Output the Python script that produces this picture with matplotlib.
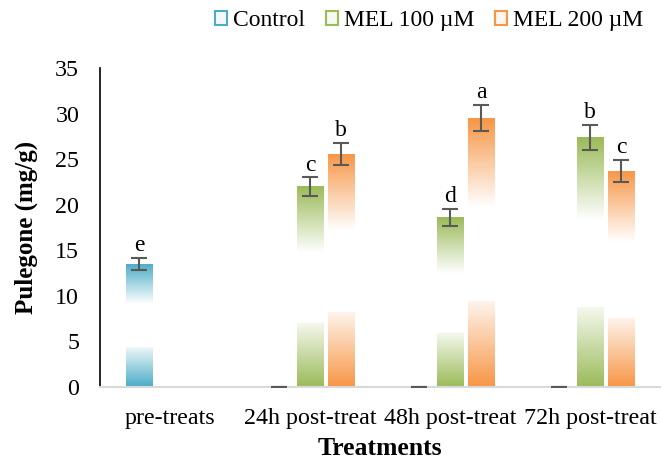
import numpy as np
import matplotlib
matplotlib.use("Agg")
import matplotlib.pyplot as plt
from matplotlib.patches import Patch
from matplotlib.colors import to_rgb

plt.rcParams['font.family'] = ['Liberation Serif', 'DejaVu Serif']

categories = ['pre-treats', '24h post-treat', '48h post-treat', '72h post-treat']
series = ['Control', 'MEL 100 \u00b5M', 'MEL 200 \u00b5M']
control = [13.5, 0, 0, 0]
control_err = [0.7, 0, 0, 0]
mel100 = [np.nan, 22.0, 18.6, 27.4]
mel100_err = [np.nan, 1.0, 0.9, 1.4]
mel200 = [np.nan, 25.6, 29.5, 23.7]
mel200_err = [np.nan, 1.2, 1.45, 1.2]
letters_control = ['e', '', '', '']
letters_mel100 = ['', 'c', 'd', 'b']
letters_mel200 = ['', 'b', 'a', 'c']

colors = ['#4BACC6', '#9BBB59', '#F79646']


def gradient_img(color, n=200):
    t = np.linspace(0, 1, n)
    a = np.zeros(n)
    lo = t < 0.32
    a[lo] = 1 - t[lo] / 0.32 * 0.9
    hi = t > 0.67
    a[hi] = (t[hi] - 0.67) / 0.33
    rgb = np.array(to_rgb(color))
    img = (1 - a[:, None]) * np.ones(3) + a[:, None] * rgb
    return img[:, None, :]


fig = plt.figure(figsize=(6.62, 4.61), dpi=100)
ax = fig.add_axes([100 / 662, (461 - 387) / 461, 560 / 662, (387 - 68) / 461])

x = np.arange(len(categories))
width = 0.186
offsets = [-0.222, 0, 0.222]
data = [(control, control_err, letters_control),
        (mel100, mel100_err, letters_mel100),
        (mel200, mel200_err, letters_mel200)]

for (vals, errs, lets), off, col in zip(data, offsets, colors):
    bars = ax.bar(x + off, np.nan_to_num(vals), width, color='none', edgecolor='none')
    for b, v in zip(bars, vals):
        if not v > 0:
            continue
        im = ax.imshow(gradient_img(col), extent=[b.get_x(), b.get_x() + width, 0, v],
                       origin='lower', aspect='auto', zorder=2)
        im.set_clip_path(b)
    ax.errorbar(x + off, vals, yerr=errs, fmt='none', ecolor='#595959',
                elinewidth=1.5, capsize=6, capthick=1.5, zorder=3)
    for xi, v, e, l in zip(x + off, vals, errs, lets):
        if l:
            ax.text(xi, v + e + 0.2, l, ha='center', va='bottom', fontsize=17)

ax.set_xlim(-0.5, 3.5)
ax.set_ylim(0, 35)
ax.set_yticks(range(0, 36, 5))
ax.set_xticks(x)
ax.set_xticklabels(categories)
ax.tick_params(axis='both', length=0, labelsize=17.3)
ax.tick_params(axis='y', pad=15)
ax.tick_params(axis='x', pad=15)
ax.spines['top'].set_visible(False)
ax.spines['right'].set_visible(False)
ax.spines['bottom'].set_color('#D9D9D9')
ax.spines['bottom'].set_linewidth(1.5)
ax.spines['left'].set_linewidth(1.2)
ax.set_ylabel('Pulegone (mg/g)', fontsize=18, fontweight='bold', labelpad=12)
ax.set_xlabel('Treatments', fontsize=18.5, fontweight='bold', labelpad=6)

handles = [Patch(facecolor='#F4F8FA' if i == 0 else ('#F6F9F1' if i == 1 else '#FEF5EE'),
                 edgecolor=c, linewidth=1.5) for i, c in enumerate(colors)]
fig.legend(handles, series, loc='center', bbox_to_anchor=(0.648, 0.955), ncol=3,
           frameon=False, fontsize=17, handlelength=0.5, handleheight=0.5,
           handletextpad=0.25, columnspacing=0.9)

fig.savefig('out.png', dpi=100)
